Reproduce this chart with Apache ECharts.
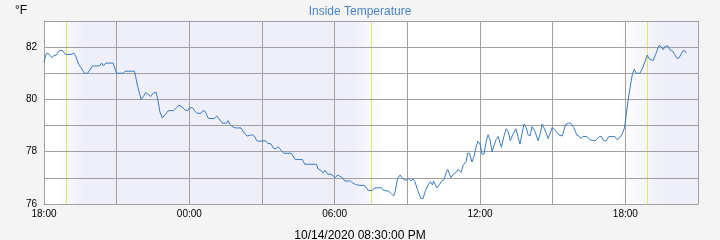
<!DOCTYPE html>
<html><head><meta charset="utf-8">
<script src="https://cdn.jsdelivr.net/npm/echarts@6/dist/echarts.min.js"></script>
<style>html,body{margin:0;padding:0;background:#f4f4f4}#c{width:720px;height:240px}</style>
</head><body><div id="c"></div>
<script>
const chartTitle = 'Inside Temperature';
const unitLabel = '°F';
const footerText = '10/14/2020 08:30:00 PM';
const startTime = '2020-10-13 18:00';
const endTime = '2020-10-14 21:00';
const yTicks = [76, 77, 78, 79, 80, 81, 82, 83];
const yLabels = [76, 78, 80, 82];
const xLabels = ['18:00', '00:00', '06:00', '12:00', '18:00'];
// sunset / sunrise markers
const sunEvents = ['2020-10-13 18:56', '2020-10-14 07:31', '2020-10-14 18:55'];
// night shading: [fadeStart, fadeEnd] (dusk: white->night, dawn: night->white)
const duskFade1 = ['2020-10-13 18:33', '2020-10-13 19:36'];
const dawnFade = ['2020-10-14 06:42', '2020-10-14 08:06'];
const duskFade2 = ['2020-10-14 17:42', '2020-10-14 19:36'];

const times = [
'2020-10-13 18:00','2020-10-13 18:05','2020-10-13 18:10','2020-10-13 18:20','2020-10-13 18:25','2020-10-13 18:30','2020-10-13 18:38','2020-10-13 18:46','2020-10-13 18:53','2020-10-13 19:07',
'2020-10-13 19:14','2020-10-13 19:19','2020-10-13 19:26','2020-10-13 19:34','2020-10-13 19:40','2020-10-13 19:48','2020-10-13 20:00','2020-10-13 20:17','2020-10-13 20:23','2020-10-13 20:27',
'2020-10-13 20:33','2020-10-13 20:51','2020-10-13 21:00','2020-10-13 21:16','2020-10-13 21:21','2020-10-13 21:44','2020-10-13 21:47','2020-10-13 21:52','2020-10-13 21:57','2020-10-13 22:01',
'2020-10-13 22:06','2020-10-13 22:12','2020-10-13 22:17','2020-10-13 22:24','2020-10-13 22:32','2020-10-13 22:38','2020-10-13 22:42','2020-10-13 22:47','2020-10-13 22:53','2020-10-13 23:02',
'2020-10-13 23:08','2020-10-13 23:21','2020-10-13 23:28','2020-10-13 23:34','2020-10-13 23:41','2020-10-13 23:49','2020-10-13 23:56','2020-10-14 00:01','2020-10-14 00:08','2020-10-14 00:14',
'2020-10-14 00:19','2020-10-14 00:29','2020-10-14 00:34','2020-10-14 00:39','2020-10-14 00:47','2020-10-14 01:02','2020-10-14 01:08','2020-10-14 01:13','2020-10-14 01:22','2020-10-14 01:32',
'2020-10-14 01:36','2020-10-14 01:40','2020-10-14 01:46','2020-10-14 01:55','2020-10-14 02:08','2020-10-14 02:14','2020-10-14 02:23','2020-10-14 02:31','2020-10-14 02:36','2020-10-14 02:42',
'2020-10-14 02:47','2020-10-14 02:52','2020-10-14 03:09','2020-10-14 03:14','2020-10-14 03:22','2020-10-14 03:29','2020-10-14 03:35','2020-10-14 03:40','2020-10-14 03:47','2020-10-14 03:54',
'2020-10-14 04:13','2020-10-14 04:22','2020-10-14 04:40','2020-10-14 04:46','2020-10-14 05:15','2020-10-14 05:19','2020-10-14 05:26','2020-10-14 05:31','2020-10-14 05:36','2020-10-14 05:43',
'2020-10-14 05:51','2020-10-14 05:57','2020-10-14 06:02','2020-10-14 06:07','2020-10-14 06:19','2020-10-14 06:25','2020-10-14 06:39','2020-10-14 06:45','2020-10-14 06:54','2020-10-14 07:15',
'2020-10-14 07:23','2020-10-14 07:33','2020-10-14 07:40','2020-10-14 07:56','2020-10-14 08:01','2020-10-14 08:14','2020-10-14 08:21','2020-10-14 08:26','2020-10-14 08:29','2020-10-14 08:36',
'2020-10-14 08:42','2020-10-14 08:51','2020-10-14 08:57','2020-10-14 09:02','2020-10-14 09:09','2020-10-14 09:14','2020-10-14 09:19','2020-10-14 09:25','2020-10-14 09:34','2020-10-14 09:39',
'2020-10-14 09:45','2020-10-14 09:52','2020-10-14 09:57','2020-10-14 10:02','2020-10-14 10:05','2020-10-14 10:13','2020-10-14 10:20','2020-10-14 10:25','2020-10-14 10:31','2020-10-14 10:36',
'2020-10-14 10:40','2020-10-14 10:48','2020-10-14 10:55','2020-10-14 11:01','2020-10-14 11:06','2020-10-14 11:09','2020-10-14 11:13','2020-10-14 11:19','2020-10-14 11:26','2020-10-14 11:29',
'2020-10-14 11:34','2020-10-14 11:40','2020-10-14 11:45','2020-10-14 11:50','2020-10-14 11:55','2020-10-14 12:00','2020-10-14 12:05','2020-10-14 12:10','2020-10-14 12:15','2020-10-14 12:20',
'2020-10-14 12:25','2020-10-14 12:30','2020-10-14 12:35','2020-10-14 12:40','2020-10-14 12:45','2020-10-14 12:50','2020-10-14 12:53','2020-10-14 13:00','2020-10-14 13:05','2020-10-14 13:10',
'2020-10-14 13:15','2020-10-14 13:21','2020-10-14 13:29','2020-10-14 13:34','2020-10-14 13:39','2020-10-14 13:44','2020-10-14 13:49','2020-10-14 13:54','2020-10-14 13:59','2020-10-14 14:04',
'2020-10-14 14:09','2020-10-14 14:16','2020-10-14 14:24','2020-10-14 14:29','2020-10-14 14:34','2020-10-14 14:41','2020-10-14 14:49','2020-10-14 14:59','2020-10-14 15:07','2020-10-14 15:15',
'2020-10-14 15:24','2020-10-14 15:32','2020-10-14 15:39','2020-10-14 15:45','2020-10-14 15:52','2020-10-14 16:00','2020-10-14 16:05','2020-10-14 16:10','2020-10-14 16:15','2020-10-14 16:25',
'2020-10-14 16:33','2020-10-14 16:46','2020-10-14 16:56','2020-10-14 17:01','2020-10-14 17:06','2020-10-14 17:13','2020-10-14 17:19','2020-10-14 17:34','2020-10-14 17:39','2020-10-14 17:44',
'2020-10-14 17:51','2020-10-14 17:58','2020-10-14 18:02','2020-10-14 18:07','2020-10-14 18:12','2020-10-14 18:17','2020-10-14 18:22','2020-10-14 18:27','2020-10-14 18:36','2020-10-14 18:42',
'2020-10-14 18:49','2020-10-14 18:54','2020-10-14 19:00','2020-10-14 19:09','2020-10-14 19:15','2020-10-14 19:24','2020-10-14 19:29','2020-10-14 19:34','2020-10-14 19:38','2020-10-14 19:45',
'2020-10-14 19:50','2020-10-14 19:57','2020-10-14 20:02','2020-10-14 20:08','2020-10-14 20:13','2020-10-14 20:23','2020-10-14 20:28','2020-10-14 20:31'
];
const temps = [
81.41,81.74,81.77,81.59,81.69,81.69,81.87,81.87,81.72,81.72,
81.77,81.64,81.34,81.16,81.00,81.00,81.28,81.28,81.39,81.28,
81.39,81.39,81.00,81.00,81.08,81.08,80.88,80.49,80.21,79.98,
80.11,80.26,80.21,80.11,80.26,80.26,79.98,79.53,79.29,79.45,
79.57,79.57,79.68,79.78,79.73,79.60,79.57,79.68,79.68,79.55,
79.47,79.47,79.57,79.55,79.27,79.27,79.37,79.27,79.09,79.09,
79.19,79.06,78.96,78.91,78.91,78.76,78.60,78.63,78.65,78.58,
78.42,78.40,78.42,78.32,78.30,78.12,78.12,78.19,78.06,77.94,
77.94,77.70,77.70,77.52,77.52,77.34,77.29,77.19,77.29,77.14,
77.14,77.06,77.01,77.11,77.01,76.88,76.88,76.80,76.73,76.70,
76.52,76.52,76.62,76.62,76.52,76.49,76.39,76.31,76.42,76.98,
77.11,76.93,76.91,76.98,76.88,76.96,76.85,76.55,76.21,76.21,
76.52,76.73,76.85,76.73,76.88,76.62,76.75,76.88,76.93,77.19,
77.32,77.01,77.16,77.21,77.32,77.37,77.21,77.50,77.63,77.94,
77.94,77.61,77.81,78.17,78.40,78.30,77.91,77.91,78.37,78.65,
78.45,77.99,78.25,78.47,78.58,78.32,78.17,78.63,78.88,78.76,
78.42,78.65,78.88,78.58,78.30,78.68,79.06,78.93,78.65,78.60,
78.96,78.78,78.42,78.68,79.06,78.83,78.50,78.93,78.81,78.65,
78.60,79.04,79.09,79.09,78.93,78.63,78.60,78.50,78.58,78.58,
78.45,78.42,78.58,78.58,78.42,78.42,78.58,78.58,78.47,78.50,
78.65,78.91,79.39,79.98,80.47,80.93,81.16,81.00,81.00,81.18,
81.46,81.69,81.54,81.49,81.72,82.08,82.00,81.90,82.03,82.05,
81.90,81.85,81.72,81.57,81.59,81.87,81.85,81.77
];

const t0 = Date.parse(startTime.replace(' ', 'T'));
const hrs = s => (Date.parse(s.replace(' ', 'T')) - t0) / 3600000;
const xMax = hrs(endTime);
const seriesData = times.map((t, i) => [hrs(t), temps[i]]);

const NIGHT = '#eeeff8';
const DAY = '#ffffff';
const grad = (a, b) => new echarts.graphic.LinearGradient(0, 0, 1, 0, [{offset: 0, color: a}, {offset: 1, color: b}]);

const chart = echarts.init(document.getElementById('c'), null, {renderer: 'canvas'});
const FONT = '"Liberation Sans", Arial, sans-serif';
chart.setOption({
  backgroundColor: '#f4f4f4',
  animation: false,
  textStyle: {fontFamily: FONT},
  title: [
    {text: chartTitle, left: 'center', top: 1, textStyle: {fontSize: 12, fontWeight: 'normal', color: '#4a86c3', fontFamily: FONT}},
    {text: unitLabel, left: 10, top: 0, textStyle: {fontSize: 12, fontWeight: 'normal', color: '#000', fontFamily: FONT}},
    {text: footerText, left: 'center', top: 225, textStyle: {fontSize: 12, fontWeight: 'normal', color: '#000', fontFamily: FONT}}
  ],
  grid: {left: 44, right: 22, top: 21, bottom: 36, show: false},
  xAxis: {
    type: 'value', min: 0, max: xMax, interval: 3, z: 2,
    axisLine: {show: true, lineStyle: {color: '#a0a0a0', width: 1}},
    axisTick: {show: false},
    splitLine: {show: true, lineStyle: {color: '#a0a0a0', width: 1}},
    axisLabel: {
      margin: 5, fontSize: 10, color: '#000', fontFamily: FONT,
      formatter: v => (v % 6 === 0 ? xLabels[v / 6] : '')
    }
  },
  yAxis: {
    type: 'value', min: yTicks[0], max: yTicks[yTicks.length - 1], interval: 1, z: 2,
    axisLine: {show: true, lineStyle: {color: '#a0a0a0', width: 1}},
    axisTick: {show: false},
    splitLine: {show: true, lineStyle: {color: '#a0a0a0', width: 1}},
    axisLabel: {
      margin: 7, fontSize: 10, color: '#000', fontFamily: FONT,
      formatter: v => (yLabels.indexOf(v) >= 0 ? String(v) : '')
    }
  },
  series: [
    {
      type: 'line', z: -1, silent: true, data: [[0, 80]], showSymbol: false,
      lineStyle: {opacity: 0},
      markArea: {
        silent: true, z: -2,
        data: [
          [{xAxis: 0, itemStyle: {color: DAY}}, {xAxis: xMax}],
          [{xAxis: hrs(duskFade1[0]), itemStyle: {color: grad(DAY, NIGHT)}}, {xAxis: hrs(duskFade1[1])}],
          [{xAxis: hrs(duskFade1[1]), itemStyle: {color: NIGHT}}, {xAxis: hrs(dawnFade[0])}],
          [{xAxis: hrs(dawnFade[0]), itemStyle: {color: grad(NIGHT, DAY)}}, {xAxis: hrs(dawnFade[1])}],
          [{xAxis: hrs(duskFade2[0]), itemStyle: {color: grad(DAY, NIGHT)}}, {xAxis: hrs(duskFade2[1])}],
          [{xAxis: hrs(duskFade2[1]), itemStyle: {color: NIGHT}}, {xAxis: xMax}]
        ]
      }
    },
    {
      type: 'line', data: seriesData, showSymbol: false, z: 3,
      lineStyle: {color: '#3a7cc0', width: 1},
      itemStyle: {color: '#3a7cc0'},
      markLine: {
        silent: true, symbol: 'none', label: {show: false}, z: 1,
        lineStyle: {color: '#e4e470', width: 1, type: 'solid', opacity: 1},
        data: sunEvents.map(s => ({xAxis: hrs(s)}))
      }
    }
  ]
});
</script></body></html>
